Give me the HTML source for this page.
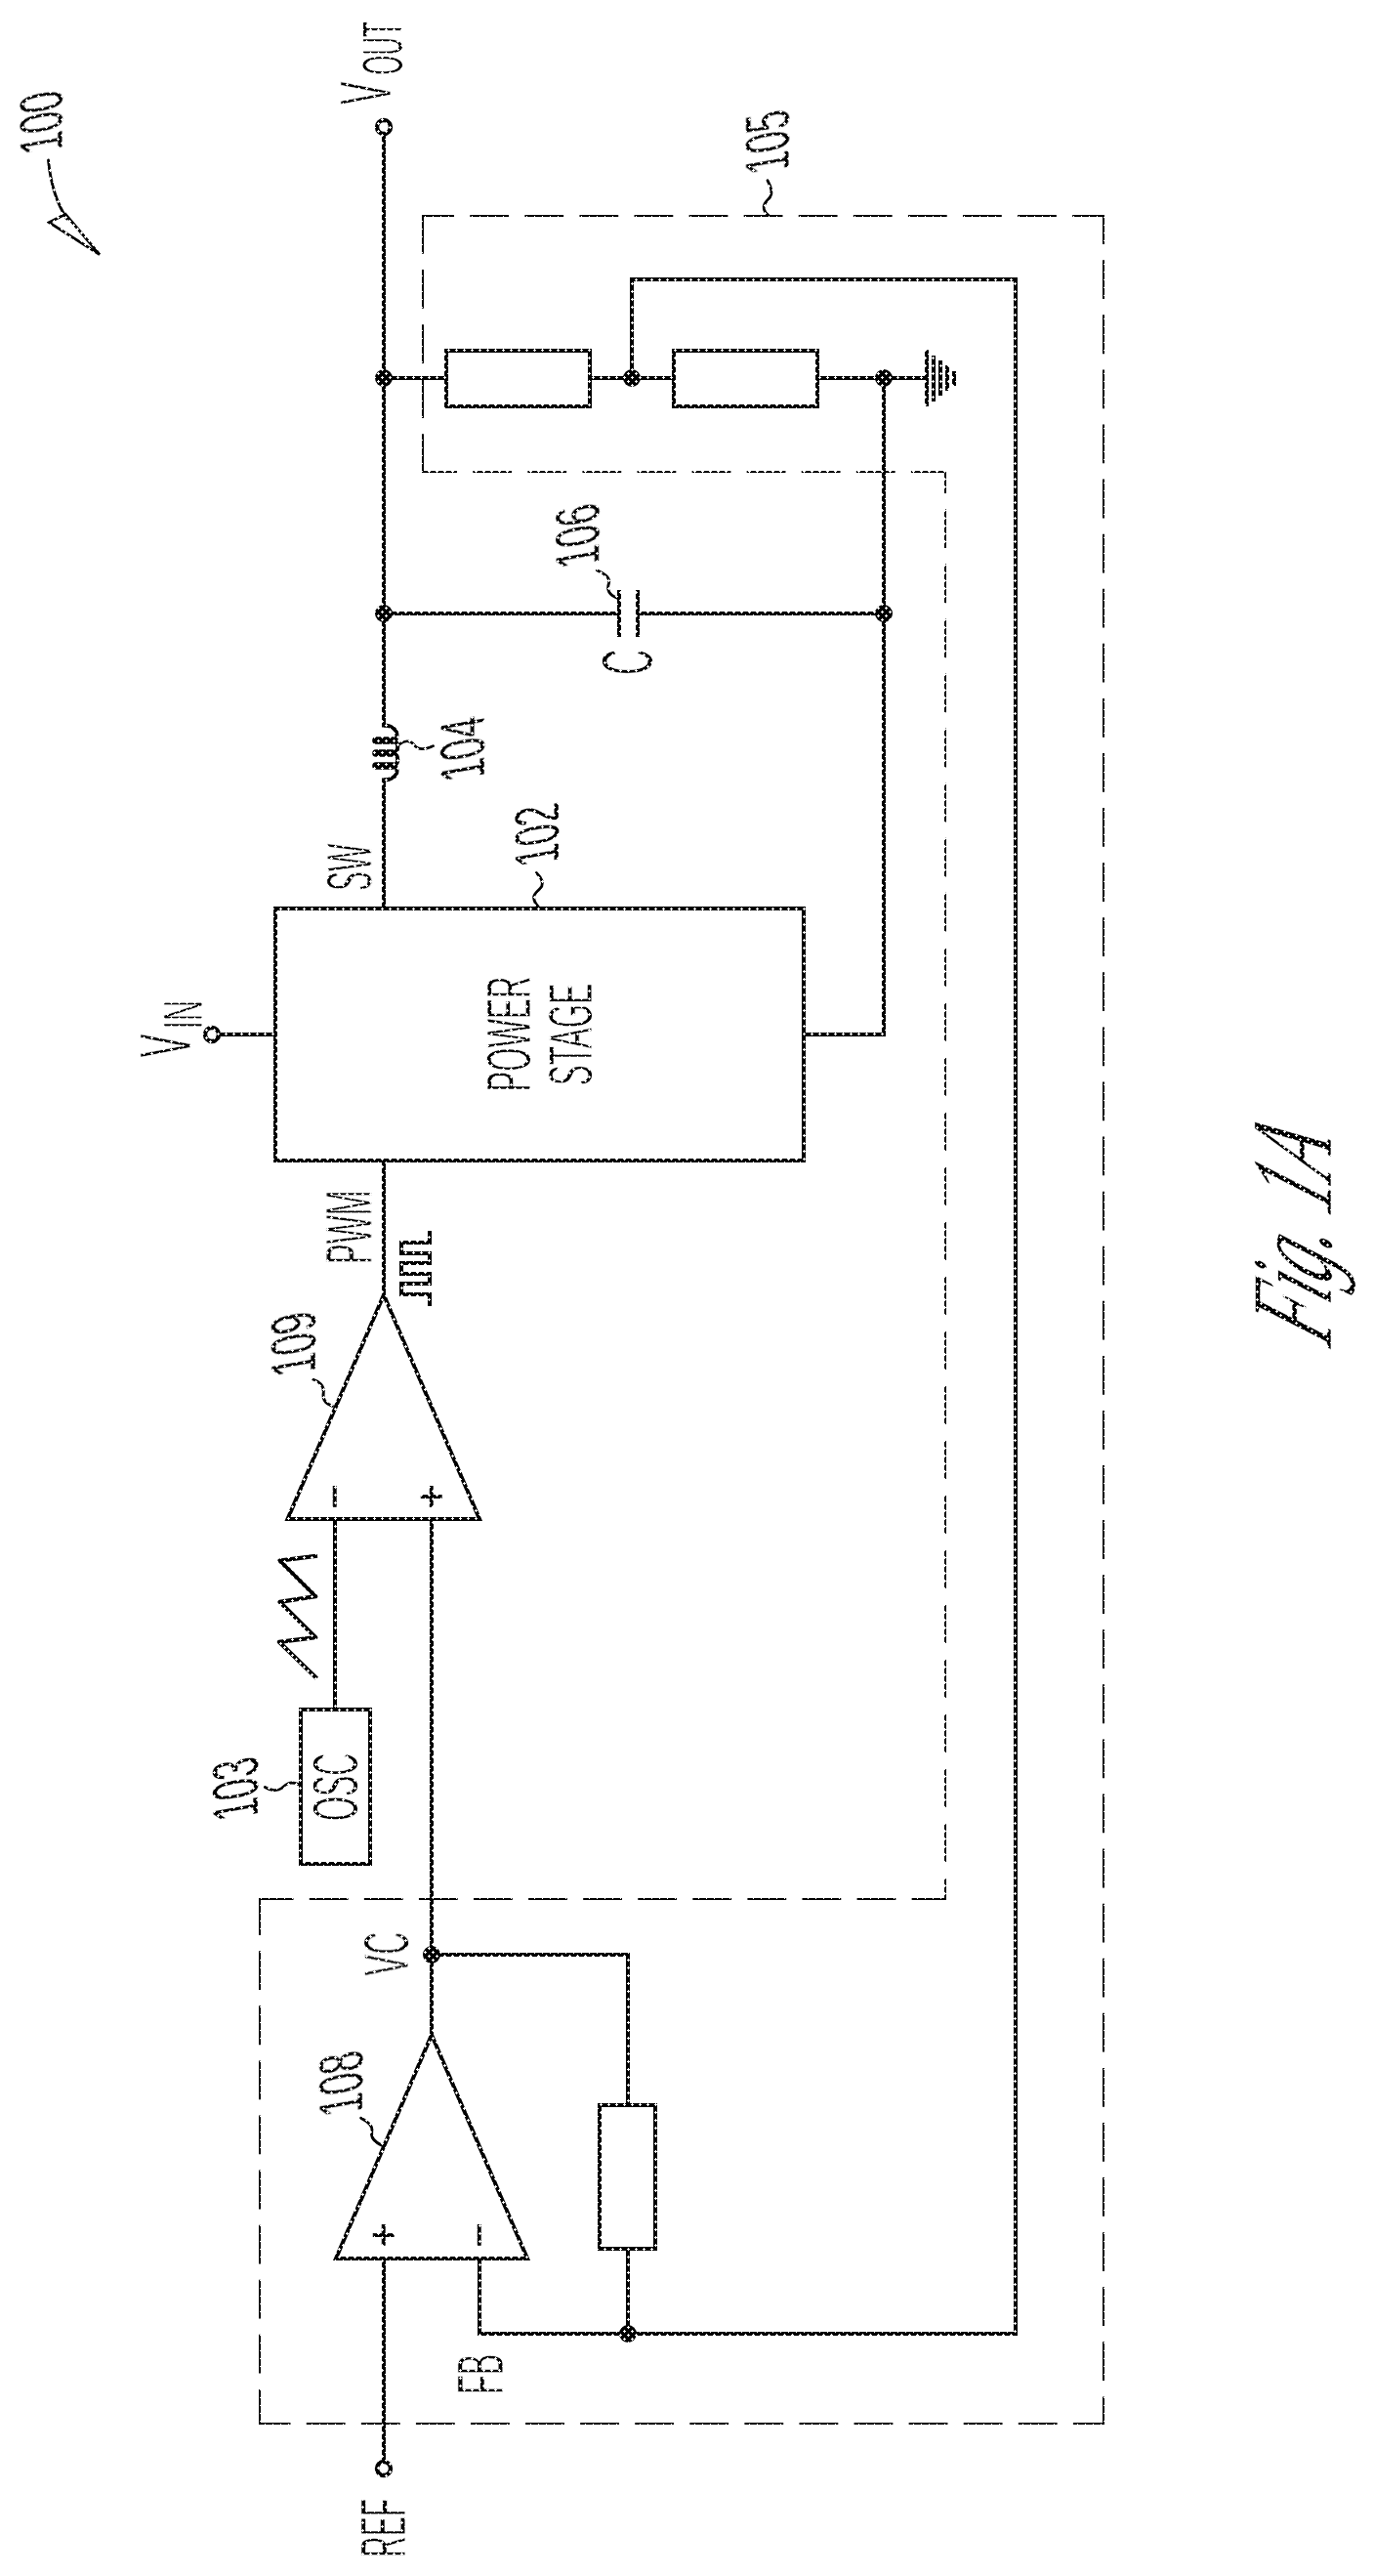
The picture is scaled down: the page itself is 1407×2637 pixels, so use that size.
<!DOCTYPE html>
<html lang="en">
<head>
<meta charset="utf-8">
<title>Fig. 1A</title>
<style>
html,body{margin:0;padding:0;background:#fff;}
body{width:1407px;height:2637px;overflow:hidden;}
svg{display:block;}
text{text-rendering:geometricPrecision;}
</style>
</head>
<body>
<svg width="1407" height="2637" viewBox="0 0 1407 2637">
<rect width="1407" height="2637" fill="#fff"/>
<g stroke="#000" stroke-width="2" fill="none">
<line x1="432" y1="221" x2="1131" y2="221" stroke-dasharray="39.78 16.3" stroke-dashoffset="6.8"/>
<line x1="1130" y1="220" x2="1130" y2="2482" stroke-dasharray="39.78 16.3" stroke-dashoffset="9.8"/>
<line x1="265" y1="2481" x2="1131" y2="2481" stroke-dasharray="39.78 16.3" stroke-dashoffset="7.3"/>
<line x1="266" y1="1943" x2="266" y2="2482" stroke-dasharray="39.78 16.3" stroke-dashoffset="1.8"/>
<line x1="265" y1="1944" x2="969" y2="1944" stroke-dasharray="39.78 16.3" stroke-dashoffset="4.3"/>
<line x1="968" y1="482" x2="968" y2="1945" stroke-dasharray="39.78 16.3" stroke-dashoffset="16.8"/>
<line x1="432" y1="483" x2="969" y2="483" stroke-dasharray="39.78 16.3" stroke-dashoffset="3.8"/>
<line x1="433" y1="220" x2="433" y2="484" stroke-dasharray="39.78 16.3" stroke-dashoffset="0"/>
</g>
<g stroke="#000" stroke-width="4" fill="none" stroke-linejoin="miter" stroke-linecap="butt">
<path d="M393,138 V744.5"/>
<path d="M393,796.5 V930"/>
<path d="M393,742.5 C400,742.5 406.5,746 406.5,753 C406.5,757 404,758 402,758 M402,758 C409,759.5 409,769.5 402,771 M402,771 C409,772.5 409,782.5 402,784 M402,784 C404,784 406.5,785 406.5,789 C406.5,795 400,798.5 393,798.5"/>
<path d="M385,758 H402 M385,771 H402 M385,784 H402" stroke-width="7.6" stroke-linecap="round"/>
<path d="M393,387 H455"/>
<rect x="457" y="359" width="147" height="57"/>
<path d="M606,387 H688"/>
<rect x="690" y="359" width="147" height="57"/>
<path d="M839,387 H949"/>
<path d="M949,358.3 V416 M956,364 V411 M963,369 V405 M970,374 V400 M977,380 V395"/>
<path d="M647,387 V286 H1040 V2389 H491 V2312"/>
<path d="M393,628 H632 M655,628 H905"/>
<path d="M634,604 V652 M653,604 V652"/>
<path d="M905,387 V1059 H825"/>
<rect x="282" y="930" width="541" height="258"/>
<path d="M226,1059 H282"/>
<path d="M393,1188 V1326.5"/>
<path d="M393,1325.5 L294.5,1555 H491 Z"/>
<path d="M343,1555 V1750"/>
<path d="M442,1555 V2083"/>
<rect x="308" y="1750" width="71" height="158"/>
<path d="M442,2083 L344,2312 H540 Z"/>
<path d="M393,2312 V2518"/>
<path d="M442,2001 H643 V2153"/>
<rect x="614" y="2155" width="57" height="147"/>
<path d="M643,2304 V2389"/>
<path d="M440,1260 V1272 H411 V1283 H440 V1293 H411 V1304 H440 V1314 H411 V1325 H440 V1337"/>
<path d="M325,1592.7 L286.4,1597.6 L323.3,1634.2 L286.4,1639.8 L323.3,1676.2 L285.8,1680.8 L324.5,1718.3" stroke-width="4.2" stroke-linejoin="round"/>
</g>
<g stroke="#000" stroke-width="4.4" fill="#fff">
<circle cx="393" cy="130" r="7"/>
<circle cx="217" cy="1059" r="7"/>
<circle cx="393" cy="2527" r="7"/>
</g>
<g fill="#000">
<circle cx="393" cy="387" r="9"/>
<circle cx="647" cy="387" r="9"/>
<circle cx="905" cy="387" r="9"/>
<circle cx="393" cy="628" r="9"/>
<circle cx="905" cy="628" r="9"/>
<circle cx="442" cy="2001" r="9"/>
<circle cx="643" cy="2389" r="9"/>
</g>
<g stroke="#000" stroke-width="2.8" fill="none" stroke-linecap="round" stroke-linejoin="round">
<path d="M786,184.8 C790,192 791.5,198 788.5,202 C785,206 781,209 782.3,214 C783,217 785,219 787.2,220.6"/>
<path d="M611.3,583.7 C619,587 625,592 623.5,597 C621,604 624,609 632,612.2"/>
<path d="M408.6,762.2 C414,758 420,757.5 424,762.5 C428,768 434,768 443.5,763.7"/>
<path d="M549.3,893.4 C554,898 556.5,903 554.8,907.2 C552,912 546,914.5 546.6,919 C547,923 549,926 551.5,928.4"/>
<path d="M271.3,1829.5 C277,1833 284,1834 288.5,1830.5 C293,1826 297,1823 305.8,1826.6"/>
<path d="M369.6,2168.2 C377,2172 382,2177 380.8,2182 C379,2189 384,2193 391.7,2196.5"/>
<path d="M320.5,1412 C327,1414 332,1419 331.3,1425 C330,1432 333,1437 340.5,1439.4"/>
<path d="M49.5,164 C52,190 58,208 68.5,224"/>
<path d="M50.2,227.7 L67,219.3 L102,260.5 Z" stroke-width="2.8" stroke-linejoin="miter"/>
</g>
<g fill="#000" font-family="'Liberation Sans', sans-serif" stroke="#fff" stroke-width="1" opacity="0.999">
<text transform="translate(63.6,153.2) rotate(-90) skewX(10)" font-size="62.2" textLength="62.91" lengthAdjust="spacingAndGlyphs" stroke-width="0.3">100</text>
<text transform="translate(400.0,107.0) rotate(-90)" font-size="74.51" textLength="23.3" lengthAdjust="spacingAndGlyphs">V</text>
<text transform="translate(412.0,76.8) rotate(-90)" font-size="58.83" textLength="54.64" lengthAdjust="spacingAndGlyphs">OUT</text>
<text transform="translate(807.6,173.6) rotate(-90) skewX(10)" font-size="63.64" textLength="63.66" lengthAdjust="spacingAndGlyphs" stroke-width="0.3">105</text>
<text transform="translate(613.2,577.0) rotate(-90) skewX(10)" font-size="63.6" textLength="63.99" lengthAdjust="spacingAndGlyphs" stroke-width="0.3">106</text>
<text transform="translate(668.0,691.0) rotate(-90)" font-size="74.25" textLength="26.27" lengthAdjust="spacingAndGlyphs">C</text>
<text transform="translate(496.0,795.4) rotate(-90) skewX(10)" font-size="64.94" textLength="65.06" lengthAdjust="spacingAndGlyphs" stroke-width="0.3">104</text>
<text transform="translate(380.2,912.0) rotate(-90)" font-size="65.6" textLength="48.37" lengthAdjust="spacingAndGlyphs">SW</text>
<text transform="translate(572.4,882.2) rotate(-90) skewX(10)" font-size="64.29" textLength="62.56" lengthAdjust="spacingAndGlyphs" stroke-width="0.3">102</text>
<text transform="translate(194.8,1082.4) rotate(-90)" font-size="74.51" textLength="23.84" lengthAdjust="spacingAndGlyphs">V</text>
<text transform="translate(207.4,1053.4) rotate(-90)" font-size="57.15" textLength="29.74" lengthAdjust="spacingAndGlyphs">IN</text>
<text transform="translate(543.0,1117.6) rotate(-90)" font-size="64.15" textLength="118.05" lengthAdjust="spacingAndGlyphs">POWER</text>
<text transform="translate(606.0,1111.2) rotate(-90)" font-size="63.43" textLength="104.42" lengthAdjust="spacingAndGlyphs">STAGE</text>
<text transform="translate(380.4,1294.0) rotate(-90)" font-size="67.19" textLength="75.65" lengthAdjust="spacingAndGlyphs">PWM</text>
<text transform="translate(322.9,1404.2) rotate(-90) skewX(10)" font-size="65.03" textLength="64.35" lengthAdjust="spacingAndGlyphs" stroke-width="0.3">109</text>
<text transform="translate(366.0,1864.0) rotate(-90)" font-size="65.6" textLength="69.37" lengthAdjust="spacingAndGlyphs">OSC</text>
<text transform="translate(264.0,1859.0) rotate(-90) skewX(10)" font-size="66.38" textLength="62.93" lengthAdjust="spacingAndGlyphs" stroke-width="0.3">103</text>
<text transform="translate(418.0,2022.4) rotate(-90)" font-size="65.0" textLength="44.62" lengthAdjust="spacingAndGlyphs">VC</text>
<text transform="translate(371.0,2161.8) rotate(-90) skewX(10)" font-size="63.62" textLength="65.03" lengthAdjust="spacingAndGlyphs" stroke-width="0.3">108</text>
<text transform="translate(515.0,2451.0) rotate(-90)" font-size="67.09" textLength="41.16" lengthAdjust="spacingAndGlyphs">FB</text>
<text transform="translate(415.0,2618.0) rotate(-90)" font-size="65.79" textLength="59.95" lengthAdjust="spacingAndGlyphs">REF</text>
<text transform="translate(357,1532) rotate(-90)" font-size="43" text-anchor="middle" stroke="#000" stroke-width="0.8">−</text>
<text transform="translate(456,1532) rotate(-90)" font-size="43" text-anchor="middle" stroke="#000" stroke-width="0.8">+</text>
<text transform="translate(407,2288) rotate(-90)" font-size="43" text-anchor="middle" stroke="#000" stroke-width="0.8">+</text>
<text transform="translate(505,2288) rotate(-90)" font-size="43" text-anchor="middle" stroke="#000" stroke-width="0.8">−</text>
</g>
<text transform="translate(1362.6,1381) rotate(-90) skewX(-22)" font-family="'Liberation Serif', serif" font-style="italic" font-size="118.4" textLength="213.8" lengthAdjust="spacingAndGlyphs" fill="#000" stroke="#fff" stroke-width="0.6">Fig. 1A</text>
<defs><pattern id="dots" width="8" height="8" patternUnits="userSpaceOnUse">
<path d="M7,1h1v3h-1z M6,2h2v1h-2z M0,2h1v1h-1z M3,5h1v3h-1z M2,6h3v1h-3z" fill="#fff" shape-rendering="crispEdges"/>
</pattern></defs>
<rect width="1407" height="2637" fill="url(#dots)"/>
</svg>
</body>
</html>
